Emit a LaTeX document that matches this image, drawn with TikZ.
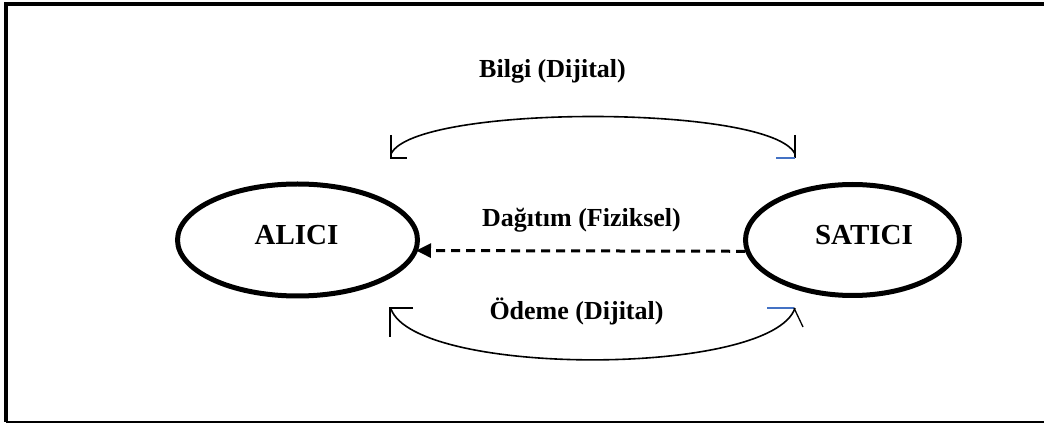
\documentclass[tikz,border=0pt]{standalone}
\usepackage{fontspec}
\setmainfont{Liberation Serif}
\usetikzlibrary{shapes.geometric,arrows.meta}
\definecolor{tickblue}{RGB}{68,114,196}
\tikzset{
  party/.style={ellipse, draw=black, line width=5pt, inner sep=0pt},
  partytext/.style={anchor=base, font=\fontsize{29}{34}\selectfont\bfseries},
  flowtext/.style={anchor=base, font=\fontsize{26}{31}\selectfont\bfseries},
  flowarc/.style={line width=1.6pt},
  tick/.style={line width=1.3pt},
  bluetick/.style={line width=1.3pt, draw=tickblue},
  physical/.style={line width=3pt, dash pattern=on 9pt off 6pt,
    -{Triangle[length=15pt,width=14pt]}, shorten >=-2pt}
}
\begin{document}
\begin{tikzpicture}[x=1pt,y=1pt]
  \useasboundingbox (0,0) rectangle (1044,423);
  % outer frame (open on the right)
  \draw[line width=3.4pt] (1044,419) -- (6,419) -- (6,1);
  \draw[line width=2pt] (6,1) -- (1044,1);

  % the two parties
  \node[party, minimum width=240pt, minimum height=112pt] (ALICI) at (297.5,183) {};
  \node[party, minimum width=214pt, minimum height=111pt] (SATICI) at (852.5,183) {};
  \node[partytext] (alicilabel) at (296.5,178) {ALICI};
  \node[partytext] (saticilabel) at (864,178) {SATICI};

  % end points of the curved flows
  \coordinate (infoL) at (391,269);
  \coordinate (infoR) at (795,269);
  \coordinate (payL) at (391,114);
  \coordinate (payR) at (795,115);

  % information flow
  \draw[flowarc] (infoL) .. controls (414,319) and (772,319) .. (infoR);
  \draw[tick] (391,288) -- (391,265) -- (407,265);
  \draw[tick] (795,288) -- (795,265);
  \draw[bluetick] (776,265) -- (795,265);
  \node[flowtext] (infolabel) at (552.5,345) {Bilgi (Dijital)};

  % physical delivery
  \draw[physical] (SATICI.186.6) -- (ALICI.-5.85);
  \node[flowtext] (deliverylabel) at (581.5,196) {Dağıtım (Fiziksel)};

  % payment flow
  \draw[flowarc] (payL) .. controls (416,46) and (772,46) .. (payR);
  \draw[tick] (413,115) -- (390,115) -- (390,86);
  \draw[bluetick] (767,115) -- (794,115);
  \draw[tick] (794,115) -- (803,96);
  \node[flowtext] (paylabel) at (576.5,103) {Ödeme (Dijital)};
\end{tikzpicture}
\end{document}
